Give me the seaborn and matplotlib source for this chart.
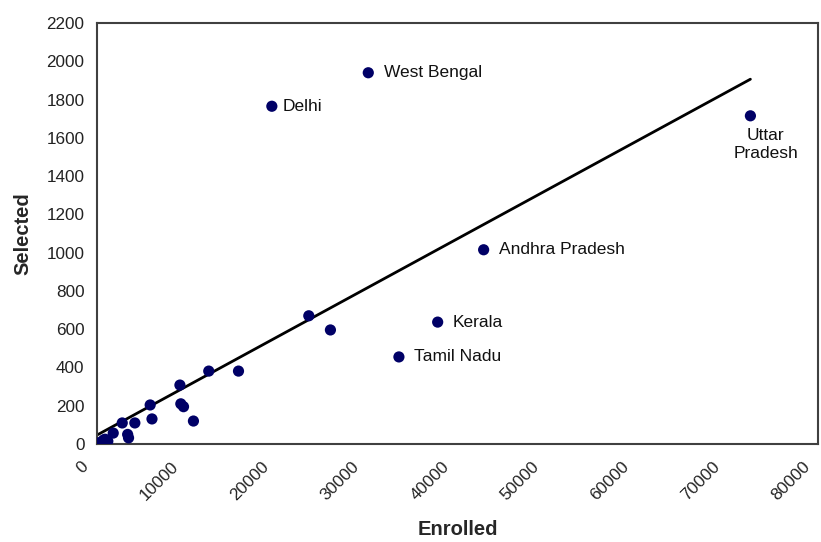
import matplotlib
matplotlib.use("Agg")
import matplotlib.pyplot as plt
from matplotlib.transforms import ScaledTranslation
import seaborn as sns
import pandas as pd

sns.set_theme(style="white")
plt.rcParams['font.family'] = ['Liberation Sans', 'DejaVu Sans']

# Data
enrolled = [30100, 19400, 72500, 42900, 37800, 33500,
            23500, 25900, 15700, 12400, 9200, 9300, 9600, 10700,
            5900, 6100, 4200, 2800, 3400, 3500, 1800, 700, 100, 300,
            500, 900, 1200, 200]
selected = [1940, 1765, 1715, 1015, 637, 455,
            670, 596, 381, 381, 308, 210, 195, 120,
            204, 131, 110, 110, 50, 32, 57, 20, 5, 0,
            10, 25, 15, 2]
labels = ["West Bengal", "Delhi", "Uttar\nPradesh", "Andhra Pradesh", "Kerala", "Tamil Nadu"]
x_ticks = [0, 10000, 20000, 30000, 40000, 50000, 60000, 70000, 80000]
y_ticks = [0, 200, 400, 600, 800, 1000, 1200, 1400, 1600, 1800, 2000, 2200]

df = pd.DataFrame({"Enrolled": enrolled, "Selected": selected})

fig = plt.figure(figsize=(8.21, 5.42), dpi=100)
ax = fig.add_axes([97/821, 1-444/542, (818-97)/821, (444-23)/542])

sns.regplot(data=df, x="Enrolled", y="Selected", ax=ax, ci=None, truncate=True,
            scatter=False, line_kws=dict(color="black", lw=2))
sns.scatterplot(data=df, x="Enrolled", y="Selected", ax=ax, color="#000066",
                s=65, edgecolor="none", zorder=3)

ax.set_xlim(0, 80000)
ax.set_ylim(0, 2200)
ax.set_xticks(x_ticks)
ax.set_yticks(y_ticks)
ax.set_xticklabels([str(v) for v in x_ticks], rotation=45, ha="right", va="top",
                   rotation_mode="anchor", fontsize=12.3, color="#222222")
ax.set_yticklabels([str(v) for v in y_ticks], fontsize=12.3, color="#222222")
ax.tick_params(axis="both", length=0)
ax.tick_params(axis="y", pad=9)
ax.tick_params(axis="x", pad=11)
shift = ScaledTranslation(-16/100, 0, fig.dpi_scale_trans)
for lab in ax.get_xticklabels():
    lab.set_transform(lab.get_transform() + shift)

ax.set_xlabel("Enrolled", fontsize=14.5, fontweight="bold", labelpad=12)
ax.set_ylabel("Selected", fontsize=14.5, fontweight="bold", labelpad=10)

for sp in ax.spines.values():
    sp.set_color("#404040")
    sp.set_linewidth(1.5)

for i, lab in enumerate(labels):
    if lab.startswith("Uttar"):
        ax.annotate(lab, (enrolled[i], selected[i]), xytext=(11, -9),
                    textcoords="offset points", ha="center", va="top",
                    fontsize=12.5, color="#111111", linespacing=1.2)
    else:
        off = 8 if lab == "Delhi" else 11
        ax.annotate(lab, (enrolled[i], selected[i]), xytext=(off, 0),
                    textcoords="offset points", ha="left", va="center",
                    fontsize=12.5, color="#111111")

fig.savefig("out.png", dpi=100)
